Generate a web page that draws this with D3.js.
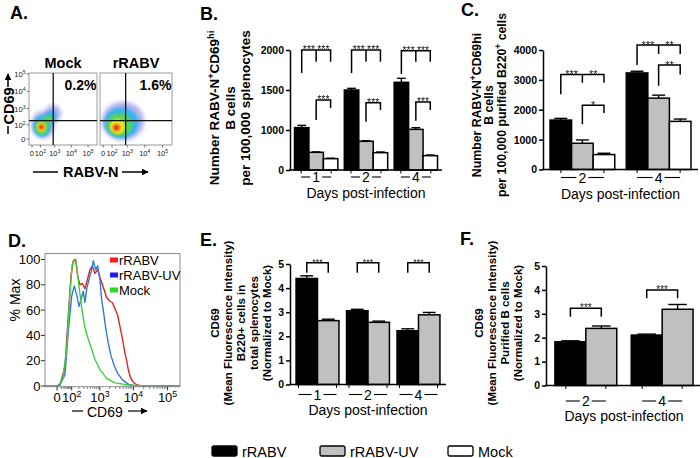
<!DOCTYPE html>
<html>
<head>
<meta charset="utf-8">
<script src="https://cdn.jsdelivr.net/npm/d3@7/dist/d3.min.js"></script>
<style>
html,body{margin:0;padding:0;background:#fff;}
svg{display:block;}
</style>
</head>
<body>
<svg id="fig" width="700" height="458" xmlns="http://www.w3.org/2000/svg"></svg>
<script>
// ======================= DATA =======================
const seriesKeys = ["rRABV", "rRABV-UV", "Mock"];

// ---- Panel A: flow plots (RABV-N vs CD69) ----
const aSamples = ["Mock", "rRABV"];
const aPercents = ["0.2%", "1.6%"];
const aGateRabvN = 800;
const aGateCD69 = 190;
const aTickValues = [0, 100, 1000, 10000, 100000];
const aTickLabels = ["0", "10^{2}", "10^{3}", "10^{4}", "10^{5}"];
// density level, RABV-N low, RABV-N high, CD69 low, CD69 high
const aMockDensity = [
  [0, -4, 1000, 2, 700],
  [0, 229, 2400, 153, 1600],
  [1, 7, 620, 6, 400],
  [1, 267, 1250, 153, 760],
  [2, 23.5, 400, 12.6, 230],
  [2, 200, 700, 120, 400],
  [3, 45, 250, 27.5, 150],
  [4, 74, 190, 44, 110]
];
const aRabvDensity = [
  [0, -8, 9000, -3, 2400],
  [1, 7, 4300, 2, 1100],
  [2, 29, 2000, 8.8, 520],
  [3, 65, 800, 17.3, 235],
  [4, 121, 350, 36, 110]
];

// ---- Panel B ----
const bDays = ["1", "2", "4"];
const bRABV = [1030, 1500, 1596], bRABVsem = [28, 21, 50];
const bUV = [442, 717, 1008], bUVsem = [10, 16, 21];
const bMock = [283, 433, 358], bMockSem = [12, 17, 17];
const bTicks = [0, 1000, 1500, 2000];
const bYLabel = ["Number RABV-N^{+}CD69^{hi}", "B cells", "per 100,000 splenocytes"];
const bBrackets = [
  {day: "1", legs: [0, 1, 2], top: 2000, feet: [1712, 1854, 1854], stars: ["***", "***"]},
  {day: "1", legs: [1, 2], top: 1375, feet: [1125, 1275], stars: ["***"]},
  {day: "2", legs: [0, 1, 2], top: 2000, feet: [1712, 1854, 1854], stars: ["***", "***"]},
  {day: "2", legs: [1, 2], top: 1341, feet: [1104, 1250], stars: ["***"]},
  {day: "4", legs: [0, 1, 2], top: 1990, feet: [1700, 1854, 1854], stars: ["***", "***"]},
  {day: "4", legs: [1, 2], top: 1350, feet: [1116, 1250], stars: ["***"]}
];

// ---- Panel C ----
const cDays = ["2", "4"];
const cRABV = [1655, 3233], cRABVsem = [56, 56];
const cUV = [878, 2389], cUVsem = [111, 100];
const cMock = [500, 1611], cMockSem = [44, 78];
const cTicks = [0, 1000, 2000, 3000, 4000];
const cYLabel = ["Number RABV-N^{+}CD69hi", "B cells", "per 100,000 purified B220^{+} cells"];
const cBrackets = [
  {day: "2", legs: [0, 1, 2], top: 3183, feet: [2521, 2901, 2901], stars: ["***", "**"]},
  {day: "2", legs: [1, 2], top: 2151, feet: [1513, 1892], stars: ["*"]},
  {day: "4", legs: [0, 1, 2], top: 4168, feet: [3496, 3866, 3866], stars: ["***", "**"]},
  {day: "4", legs: [1, 2], top: 3496, feet: [2800, 3183], stars: ["**"]}
];

// ---- Panel D: CD69 histograms (CD69 intensity, % of max) ----
const dTickValues = [0, 100, 1000, 10000, 100000];
const dTickLabels = ["0", "10^{2}", "10^{3}", "10^{4}", "10^{5}"];
const dYTicks = [0, 20, 40, 60, 80, 100];
const dRABV = [[-75,0],[0,0],[13,1],[42,15],[67,55],[93,87],[118,99],[149,100],[179,87],[219,80],[266,81],[330,77],[408,85],[486,92],[577,95],[704,89],[856,92],[1008,86],[1273,78],[1615,70],[2029,67],[2378,66],[2863,61],[3443,56],[4026,47],[4710,38],[5658,26],[6348,20],[7080,13],[7938,8],[8904,5],[9924,3],[12480,1],[17484,0],[230000,0]];
const dUV = [[-75,0],[0,0],[13,1],[42,9],[67,43],[100,71],[130,79],[164,72],[201,63],[238,68],[288,75],[330,66],[378,77],[450,84],[552,92],[622,99],[740,92],[856,95],[1008,84],[1137,68],[1273,60],[1506,46],[1804,34],[2174,24],[2728,16],[3443,10],[4710,5],[7080,1.5],[11124,0],[230000,0]];
const dMock = [[-75,0],[0,0],[13,2],[29,7],[54,29],[83,74],[106,96],[130,100],[164,95],[201,79],[253,62],[330,46],[427,37],[552,29],[704,21],[1008,13],[1615,6],[2863,2.5],[7080,0.8],[21828,0],[230000,0]];

// ---- Panel E ----
const eDays = ["1", "2", "4"];
const eRABV = [4.40, 3.06, 2.23], eRABVsem = [0.11, 0.06, 0.08];
const eUV = [2.65, 2.58, 2.89], eUVsem = [0.06, 0.05, 0.10];
const eTicks = [0, 1, 2, 3, 4, 5];
const eYLabel = ["CD69", "(Mean Fluorescence Intensity)", "B220+ cells in", "total splenocytes", "(Normalized to Mock)"];
const eBrackets = [
  {day: "1", legs: [0, 1], top: 5.05, feet: [4.64, 4.64], stars: ["***"]},
  {day: "2", legs: [0, 1], top: 5.05, feet: [4.64, 4.64], stars: ["***"]},
  {day: "4", legs: [0, 1], top: 5.05, feet: [4.64, 4.64], stars: ["***"]}
];

// ---- Panel F ----
const fDays = ["2", "4"];
const fRABV = [1.83, 2.11], fRABVsem = [0.04, 0.04];
const fUV = [2.39, 3.19], fUVsem = [0.10, 0.20];
const fTicks = [0, 1, 2, 3, 4, 5];
const fYLabel = ["CD69", "(Mean Fluorescence Intensity)", "Purified B cells", "(Normalized to Mock)"];
const fBrackets = [
  {day: "2", legs: [0, 1], top: 3.23, feet: [2.88, 2.88], stars: ["***"]},
  {day: "4", legs: [0, 1], top: 4.00, feet: [3.65, 3.65], stars: ["***"]}
];

// ======================= STYLE =======================
const FONT = "'Liberation Sans', Arial, Helvetica, sans-serif";
const barFill = {"rRABV": "#000000", "rRABV-UV": "#c0c0c0", "Mock": "#ffffff"};
const densityColors = ["#3a4bd9", "#29b6ef", "#55d650", "#f5e21d", "#ee3a1a"];
const densityOpacity = [0.45, 0.9, 0.95, 1, 1];
const histColors = {"rRABV": "#e2231c", "rRABV-UV": "#3079d4", "Mock": "#3fcf3f"};
const histKeyColors = {"rRABV": "#ff1a1a", "rRABV-UV": "#1c1cf5", "Mock": "#22dd22"};

const svg = d3.select("#fig").attr("font-family", FONT);
svg.append("rect").attr("width", 700).attr("height", 458).attr("fill", "#fff");
const defs = svg.append("defs");
defs.append("filter").attr("id", "blur1").attr("x", "-50%").attr("y", "-50%").attr("width", "200%").attr("height", "200%")
  .append("feGaussianBlur").attr("stdDeviation", 1.1);
defs.append("filter").attr("id", "blur2").attr("x", "-50%").attr("y", "-50%").attr("width", "200%").attr("height", "200%")
  .append("feGaussianBlur").attr("stdDeviation", 2.0);
const mk = defs.append("marker").attr("id", "arrow").attr("viewBox", "0 0 10 10").attr("refX", 9).attr("refY", 5)
  .attr("markerWidth", 7).attr("markerHeight", 7).attr("markerUnits", "userSpaceOnUse").attr("orient", "auto");
mk.append("path").attr("d", "M0,0L10,5L0,10z").attr("fill", "#000");

function addRich(textSel, str, fs) {
  const re = /\^\{([^}]*)\}/g;
  let last = 0, m, up = false;
  const parts = [];
  while ((m = re.exec(str))) {
    if (m.index > last) parts.push({t: str.slice(last, m.index), sup: false});
    parts.push({t: m[1], sup: true});
    last = re.lastIndex;
  }
  if (last < str.length) parts.push({t: str.slice(last), sup: false});
  const sh = 0.4 * fs;
  parts.forEach(p => {
    const ts = textSel.append("tspan").text(p.t);
    if (p.sup) { ts.attr("font-size", 0.68 * fs); if (!up) { ts.attr("dy", -sh); up = true; } }
    else if (up) { ts.attr("dy", sh); up = false; }
  });
  return textSel;
}
function txt(g, x, y, str, fs, opts = {}) {
  const t = g.append("text").attr("x", x).attr("y", y).attr("font-size", fs)
    .attr("font-weight", opts.bold ? "bold" : "normal").attr("text-anchor", opts.anchor || "start")
    .attr("fill", opts.fill || "#000");
  addRich(t, str, fs);
  return t;
}
function vtext(g, x, cy, str, fs, bold) {
  const t = g.append("text").attr("transform", `translate(${x},${cy}) rotate(-90)`)
    .attr("text-anchor", "middle").attr("font-size", fs).attr("font-weight", bold ? "bold" : "normal");
  addRich(t, str, fs);
  return t;
}

// ---------- panel letters ----------
[["A.", 10, 18.5], ["B.", 200, 19.5], ["C.", 461, 15.5], ["D.", 8, 246.5], ["E.", 200, 246], ["F.", 460, 245]]
  .forEach(([s, x, y]) => txt(svg, x, y, s, 18, {bold: true}));

// ======================= PANEL A =======================
(function () {
  const g = svg.append("g");
  const frames = [[29, 97], [100, 172]];
  const yA = d3.scaleSymlog().constant(18).domain([-22, 114000]).range([145, 73]);
  const dens = [aMockDensity, aRabvDensity];
  aSamples.forEach((name, i) => {
    const xA = d3.scaleSymlog().constant(46).domain([-23, 340000]).range(frames[i]);
    const cid = "clipA" + i;
    defs.append("clipPath").attr("id", cid).append("rect")
      .attr("x", frames[i][0]).attr("y", 73).attr("width", frames[i][1] - frames[i][0]).attr("height", 72);
    const dg = g.append("g").attr("clip-path", `url(#${cid})`);
    dens[i].forEach(([lvl, x0, x1, y0, y1]) => {
      const cx = (xA(x0) + xA(x1)) / 2, cy = (yA(y0) + yA(y1)) / 2;
      dg.append("ellipse").attr("cx", cx).attr("cy", cy)
        .attr("rx", Math.abs(xA(x1) - xA(x0)) / 2).attr("ry", Math.abs(yA(y1) - yA(y0)) / 2)
        .attr("fill", densityColors[lvl]).attr("opacity", densityOpacity[lvl])
        .attr("filter", lvl === 0 ? "url(#blur2)" : "url(#blur1)");
    });
    g.append("rect").attr("x", frames[i][0]).attr("y", 73).attr("width", frames[i][1] - frames[i][0]).attr("height", 72)
      .attr("fill", "none").attr("stroke", "#9a9a9a").attr("stroke-width", 1);
    // gates
    g.append("line").attr("x1", xA(aGateRabvN)).attr("x2", xA(aGateRabvN)).attr("y1", 73).attr("y2", 145)
      .attr("stroke", "#111").attr("stroke-width", 1.3);
    g.append("line").attr("x1", frames[i][0]).attr("x2", frames[i][1]).attr("y1", yA(aGateCD69)).attr("y2", yA(aGateCD69))
      .attr("stroke", "#111").attr("stroke-width", 1.3);
    // titles & percent
    txt(g, (frames[i][0] + frames[i][1]) / 2, 68.3, name, 14.5, {bold: true, anchor: "middle"});
    txt(g, frames[i][1] - 0.5, 90, aPercents[i], 14, {bold: true, anchor: "end"});
    // x ticks
    aTickValues.forEach((v, k) => {
      g.append("line").attr("x1", xA(v)).attr("x2", xA(v)).attr("y1", 145).attr("y2", 147.5).attr("stroke", "#555").attr("stroke-width", 0.8);
      txt(g, xA(v), 155.5, aTickLabels[k], 7.5, {anchor: "middle", fill: "#222"});
    });
  });
  // y ticks
  aTickValues.forEach((v, k) => {
    g.append("line").attr("x1", 26.5).attr("x2", 29).attr("y1", yA(v)).attr("y2", yA(v)).attr("stroke", "#555").attr("stroke-width", 0.8);
    txt(g, 25.5, yA(v) + 3, aTickLabels[k], 7.5, {anchor: "end", fill: "#222"});
  });
  // axis titles
  g.append("line").attr("x1", 33).attr("x2", 58).attr("y1", 172).attr("y2", 172).attr("stroke", "#000").attr("stroke-width", 1.5);
  txt(g, 63, 177, "RABV-N", 14.5, {bold: true});
  g.append("line").attr("x1", 122).attr("x2", 148).attr("y1", 172).attr("y2", 172).attr("stroke", "#000").attr("stroke-width", 1.5)
    .attr("marker-end", "url(#arrow)");
  g.append("line").attr("x1", 8).attr("x2", 8).attr("y1", 134).attr("y2", 126).attr("stroke", "#000").attr("stroke-width", 1.5);
  vtext(g, 13.5, 106, "CD69", 14.5, true);
  g.append("line").attr("x1", 8).attr("x2", 8).attr("y1", 87).attr("y2", 74).attr("stroke", "#000").attr("stroke-width", 1.5)
    .attr("marker-end", "url(#arrow)");
})();

// ======================= BAR PANELS =======================
function barPanel(p) {
  const g = svg.append("g");
  const x0 = d3.scaleBand().domain(p.groups).range(p.xRange).paddingInner(p.pi).paddingOuter(p.po);
  const keys = p.series.map(s => s.key);
  const x1 = d3.scaleBand().domain(keys).range([0, x0.bandwidth()]);
  const y = p.y;
  const bw = x1.bandwidth();
  const cxOf = (gi, si) => x0(p.groups[gi]) + x1(keys[si]) + bw / 2;
  // error bars (upper)
  p.series.forEach((s, si) => s.vals.forEach((v, gi) => {
    const c = cxOf(gi, si), top = y(v + s.sem[gi]);
    g.append("line").attr("x1", c).attr("x2", c).attr("y1", y(v)).attr("y2", top).attr("stroke", "#000").attr("stroke-width", 1.4);
    g.append("line").attr("x1", c - bw * 0.3).attr("x2", c + bw * 0.3).attr("y1", top).attr("y2", top).attr("stroke", "#000").attr("stroke-width", 1.4);
  }));
  // bars
  p.series.forEach((s, si) => {
    g.append("g").selectAll("rect").data(s.vals).join("rect")
      .attr("x", (v, gi) => x0(p.groups[gi]) + x1(s.key))
      .attr("y", v => y(v)).attr("width", bw).attr("height", v => y(0) - y(v))
      .attr("fill", barFill[s.key]).attr("stroke", "#000").attr("stroke-width", 1.5);
  });
  // y axis
  const ya = g.append("g").attr("transform", `translate(${p.xRange[0]},0)`)
    .call(d3.axisLeft(y).tickValues(p.yTicks).tickSize(4).tickSizeOuter(0).tickPadding(2).tickFormat(d => String(d)));
  ya.attr("font-family", FONT).attr("font-size", p.tickFs).attr("font-weight", "bold");
  ya.select(".domain").attr("stroke-width", 1.5);
  ya.selectAll(".tick line").attr("stroke-width", 1.5);
  // x axis
  g.append("line").attr("x1", p.xRange[0] - 0.75).attr("x2", p.xRange[1]).attr("y1", y(0)).attr("y2", y(0))
    .attr("stroke", "#000").attr("stroke-width", 1.5);
  p.groups.forEach((d, gi) => {
    const c = x0(d) + x0.bandwidth() / 2;
    [-1, 1].forEach(sgn => {
      g.append("line").attr("x1", c + sgn * p.dashHalf).attr("x2", c + sgn * p.dashHalf).attr("y1", y(0)).attr("y2", y(0) + 3.5)
        .attr("stroke", "#000").attr("stroke-width", 1);
      g.append("line").attr("x1", c + sgn * 6).attr("x2", c + sgn * p.dashHalf).attr("y1", y(0) + p.digitDy - 5).attr("y2", y(0) + p.digitDy - 5)
        .attr("stroke", "#000").attr("stroke-width", 1.1);
    });
    txt(g, c, y(0) + p.digitDy, d, 14, {anchor: "middle"});
  });
  txt(g, (p.xRange[0] + p.xRange[1]) / 2, y(0) + p.daysDy, "Days post-infection", 14, {anchor: "middle"});
  // significance brackets
  const sg = g.append("g").attr("opacity", 0.99);
  p.brackets.forEach(b => {
    const gi = p.groups.indexOf(b.day);
    const xs = b.legs.map(si => cxOf(gi, si));
    const yt = y(b.top);
    let d = `M${xs[0]},${y(b.feet[0])}V${yt}H${xs[xs.length - 1]}V${y(b.feet[xs.length - 1])}`;
    if (xs.length === 3) d += `M${xs[1]},${yt}V${y(b.feet[1])}`;
    g.append("path").attr("d", d).attr("fill", "none").attr("stroke", "#000").attr("stroke-width", 1.5);
    b.stars.forEach((st, k) => {
      txt(sg, (xs[k] + xs[k + 1]) / 2, yt + p.starFs * 0.43 - 1.2, st, p.starFs, {anchor: "middle", fill: "#111"});
    });
  });
  // y label
  p.label.forEach((line, i) => vtext(g, p.labelXs[i], p.labelCy, line, p.labelFs, true));
}

barPanel({
  groups: bDays,
  series: [{key: "rRABV", vals: bRABV, sem: bRABVsem}, {key: "rRABV-UV", vals: bUV, sem: bUVsem}, {key: "Mock", vals: bMock, sem: bMockSem}],
  xRange: [290, 442], pi: 0.13, po: 0.09,
  y: d3.scaleLinear().domain([0, 1000, 2000]).range([170, 130, 50]),
  yTicks: bTicks, tickFs: 10.5, brackets: bBrackets, starFs: 10.5,
  dashHalf: 15, digitDy: 12, daysDy: 27.5,
  label: bYLabel, labelXs: [219, 235, 250], labelCy: 108, labelFs: 13.5
});
barPanel({
  groups: cDays,
  series: [{key: "rRABV", vals: cRABV, sem: cRABVsem}, {key: "rRABV-UV", vals: cUV, sem: cUVsem}, {key: "Mock", vals: cMock, sem: cMockSem}],
  xRange: [543, 698], pi: 0.151, po: 0.092,
  y: d3.scaleLinear().domain([0, 4000]).range([169.5, 50]),
  yTicks: cTicks, tickFs: 10.5, brackets: cBrackets, starFs: 11,
  dashHalf: 21.5, digitDy: 13, daysDy: 29,
  label: cYLabel, labelXs: [480.5, 493, 505.5], labelCy: 105, labelFs: 12.3
});
barPanel({
  groups: eDays,
  series: [{key: "rRABV", vals: eRABV, sem: eRABVsem}, {key: "rRABV-UV", vals: eUV, sem: eUVsem}],
  xRange: [290, 446], pi: 0.15, po: 0.12,
  y: d3.scaleLinear().domain([0, 5]).range([384.5, 264]),
  yTicks: eTicks, tickFs: 10.5, brackets: eBrackets, starFs: 9,
  dashHalf: 19, digitDy: 15, daysDy: 30,
  label: eYLabel, labelXs: [219, 232, 245, 258, 271], labelCy: 323, labelFs: 11.5
});
barPanel({
  groups: fDays,
  series: [{key: "rRABV", vals: fRABV, sem: fRABVsem}, {key: "rRABV-UV", vals: fUV, sem: fUVsem}],
  xRange: [546, 702], pi: 0.19, po: 0.117,
  y: d3.scaleLinear().domain([0, 5]).range([385.5, 266]),
  yTicks: fTicks, tickFs: 10.5, brackets: fBrackets, starFs: 10,
  dashHalf: 20, digitDy: 20.5, daysDy: 35,
  label: fYLabel, labelXs: [483, 496, 509, 522], labelCy: 323, labelFs: 11.5
});

// ======================= PANEL D =======================
(function () {
  const g = svg.append("g");
  const x = d3.scaleSymlog().constant(60).domain([-75, 230000]).range([45, 180]);
  const y = d3.scaleLinear().domain([0, 100]).range([386, 259.5]);
  const top = y(104.7);
  defs.append("clipPath").attr("id", "clipD").append("rect").attr("x", 45).attr("y", top).attr("width", 135).attr("height", 386.7 - top);
  const line = d3.line().x(d => x(d[0])).y(d => y(d[1]));
  const hg = g.append("g").attr("clip-path", "url(#clipD)");
  [["rRABV", dRABV], ["rRABV-UV", dUV], ["Mock", dMock]].forEach(([k, data]) => {
    hg.append("path").datum(data).attr("d", line).attr("fill", "none").attr("stroke", histColors[k]).attr("stroke-width", 1.4)
      .attr("stroke-linejoin", "round");
  });
  g.append("rect").attr("x", 45).attr("y", top).attr("width", 135).attr("height", 386.7 - top)
    .attr("fill", "none").attr("stroke", "#8c8c8c").attr("stroke-width", 1);
  // y axis
  dYTicks.forEach(v => {
    g.append("line").attr("x1", 41).attr("x2", 45).attr("y1", y(v)).attr("y2", y(v)).attr("stroke", "#333").attr("stroke-width", 1);
    txt(g, 40.5, y(v) + 4.5, String(v), 13, {anchor: "end"});
  });
  // x axis
  const minor = [];
  [1, 2, 3, 4].forEach(k => d3.range(2, 10).forEach(m => minor.push(m * Math.pow(10, k))));
  minor.forEach(v => g.append("line").attr("x1", x(v)).attr("x2", x(v)).attr("y1", 386.7).attr("y2", 389)
    .attr("stroke", "#555").attr("stroke-width", 0.7));
  dTickValues.forEach((v, k) => {
    g.append("line").attr("x1", x(v)).attr("x2", x(v)).attr("y1", 386.7).attr("y2", 390.5).attr("stroke", "#333").attr("stroke-width", 1);
    txt(g, x(v), 402, dTickLabels[k], 13, {anchor: "middle"});
  });
  vtext(g, 20, 300, "% Max", 14, false);
  g.append("line").attr("x1", 72).attr("x2", 83).attr("y1", 411).attr("y2", 411).attr("stroke", "#000").attr("stroke-width", 1.2);
  txt(g, 87, 416.5, "CD69", 14);
  g.append("line").attr("x1", 128).attr("x2", 147).attr("y1", 411).attr("y2", 411).attr("stroke", "#000").attr("stroke-width", 1.2)
    .attr("marker-end", "url(#arrow)");
  // legend
  seriesKeys.forEach((k, i) => {
    const by = 265 + i * 15;
    g.append("rect").attr("x", 110).attr("y", by - 7.5).attr("width", 8).attr("height", 5).attr("fill", histKeyColors[k]);
    txt(g, 119, by, k, 13);
  });
})();

// ======================= BOTTOM LEGEND =======================
(function () {
  const g = svg.append("g");
  const xs = [212, 320, 448];
  seriesKeys.forEach((k, i) => {
    g.append("rect").attr("x", xs[i]).attr("y", 446).attr("width", 25).attr("height", 10).attr("rx", 2)
      .attr("fill", barFill[k]).attr("stroke", "#000").attr("stroke-width", 1.3);
    txt(g, xs[i] + 30, 456.5, k, 14.5);
  });
})();
</script>
</body>
</html>
